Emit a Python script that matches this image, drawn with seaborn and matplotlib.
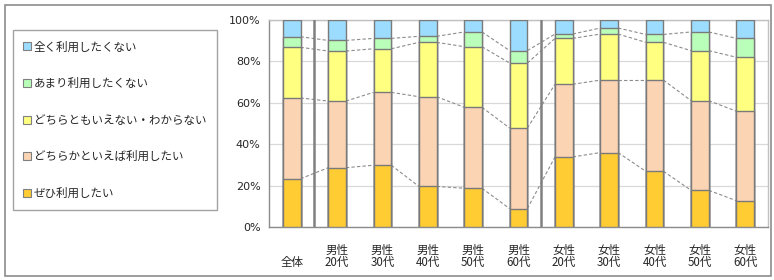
import matplotlib
matplotlib.use("Agg")
import matplotlib.pyplot as plt
import seaborn as sns
import pandas as pd
import numpy as np
from matplotlib.patches import Rectangle, Patch

# categories and tick labels
categories = ["全体", "男性20代", "男性30代", "男性40代", "男性50代", "男性60代",
              "女性20代", "女性30代", "女性40代", "女性50代", "女性60代"]
tick_labels = ["\n全体", "男性\n20代", "男性\n30代", "男性\n40代", "男性\n50代", "男性\n60代",
               "女性\n20代", "女性\n30代", "女性\n40代", "女性\n50代", "女性\n60代"]

# series (percent), bottom to top
zehi = [23.4, 28.7, 29.9, 19.7, 18.8, 9.0, 33.9, 36.0, 27.0, 17.8, 12.8]
dochiraka = [38.9, 32.1, 35.1, 43.2, 39.0, 38.8, 35.0, 34.9, 43.9, 43.2, 43.1]
dochiratomo = [24.4, 24.1, 21.0, 26.2, 29.2, 31.3, 22.1, 22.2, 18.2, 24.1, 26.0]
amari = [5.1, 5.1, 5.0, 2.9, 7.1, 6.0, 2.1, 2.9, 3.8, 9.0, 9.1]
mattaku = [8.2, 10.0, 9.0, 8.0, 5.9, 14.9, 6.9, 4.0, 7.1, 5.9, 9.0]

series_names = ["ぜひ利用したい", "どちらかといえば利用したい", "どちらともいえない・わからない",
                "あまり利用したくない", "全く利用したくない"]
series_values = [zehi, dochiraka, dochiratomo, amari, mattaku]
colors = ["#FFCC33", "#FBD4B4", "#FFFF80", "#B9FFB9", "#9BDCFF"]

sns.set_style("white")
plt.rcParams['font.family'] = ['Noto Sans CJK JP', 'DejaVu Sans']

df = pd.DataFrame(dict(zip(series_names, series_values)), index=categories)
cum = df.cumsum(axis=1)

fig = plt.figure(figsize=(7.74, 2.80), dpi=100)
ax = fig.add_axes([269 / 774, 1 - 227.3 / 280, (768 - 269) / 774, (227.3 - 19.7) / 280])

bar_w = 0.39
# draw from top layer down so lower layers overwrite
for name, color in reversed(list(zip(series_names, colors))):
    sns.barplot(x=categories, y=cum[name].values, color=color, width=bar_w,
                edgecolor="#7A7A7A", linewidth=1.0, ax=ax, saturation=1, zorder=3)

# dashed connectors between adjacent bars
xs = np.arange(len(categories))
for name in series_names[:-1]:
    vals = cum[name].values
    for i in range(len(xs) - 1):
        ax.plot([xs[i] + bar_w / 2, xs[i + 1] - bar_w / 2], [vals[i], vals[i + 1]],
                ls=(0, (3, 2)), color="#8C8C8C", lw=0.8, zorder=2)

# group separators
for sx in [0.5, 5.5]:
    ax.axvline(sx, color="#808080", lw=1.8, zorder=4)

ax.set_xlim(-0.5, len(categories) - 0.5)
ax.set_ylim(0, 100)
ax.set_yticks(range(0, 101, 20))
ax.set_yticklabels([f"{v}%" for v in range(0, 101, 20)], fontsize=8, family=['DejaVu Sans'])
ax.set_xticks(xs)
ax.set_xticklabels(tick_labels, fontsize=8.3, linespacing=0.95)
ax.set_xticks(np.arange(-0.5, len(categories), 1), minor=True)
ax.tick_params(axis='x', which='major', length=0, pad=12)
ax.tick_params(axis='x', which='minor', length=4, color="#808080", direction='out')
ax.tick_params(axis='y', length=4, color="#808080", direction='out', pad=2)
ax.set_xlabel("")
ax.set_ylabel("")
ax.yaxis.grid(True, color="#D9D9D9", lw=0.9, zorder=0)
ax.set_axisbelow(True)
for side in ["left", "bottom", "top", "right"]:
    ax.spines[side].set_color("#8C8C8C")
    ax.spines[side].set_linewidth(1.0)
ax.spines["top"].set_color("#C0C0C0")
ax.spines["right"].set_color("#C0C0C0")

# legend, top entry first
handles = [Patch(facecolor=c, edgecolor="#808080", lw=0.8) for c in colors][::-1]
labels = series_names[::-1]
leg = fig.legend(handles, labels, loc='upper left', bbox_to_anchor=(13 / 774, 1 - 30 / 280, 204 / 774, 0.0),
                 mode='expand', frameon=True, fancybox=False, fontsize=8.3,
                 handlelength=0.7, handleheight=0.7, handletextpad=0.2,
                 labelspacing=2.05, borderpad=0.9, borderaxespad=0)
leg.get_frame().set_edgecolor("#8C8C8C")
leg.get_frame().set_linewidth(1.0)

# outer border
fig.add_artist(Rectangle((5 / 774, 1 - 275.5 / 280), (771 - 5) / 774, (275.5 - 5) / 280,
                         transform=fig.transFigure, fill=False, edgecolor="#8C8C8C", lw=1.2))

fig.savefig("out.png", dpi=100)
